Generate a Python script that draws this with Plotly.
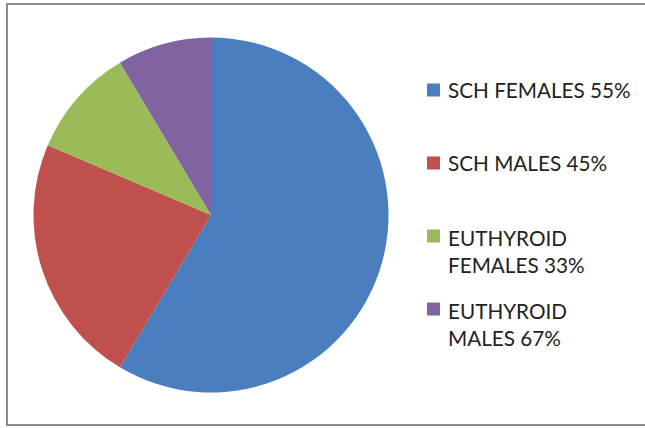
import plotly.graph_objects as go

categories = ["SCH FEMALES 55%", "SCH MALES 45%", "EUTHYROID<br>FEMALES 33%", "EUTHYROID<br>MALES 67%"]
values = [41, 16, 7, 6]
colors = ["#4A7EBF", "#C0504D", "#9BBB59", "#8064A2"]

W, H = 645, 428
cx, cy, r = 211, 215, 177.5

fig = go.Figure(go.Pie(
    labels=categories, values=values, sort=False, direction="clockwise", rotation=0,
    marker=dict(colors=colors, line=dict(width=0)),
    textinfo="none", hoverinfo="label+value", showlegend=False,
    domain=dict(x=[(cx - r) / W, (cx + r) / W], y=[(H - cy - r) / H, (H - cy + r) / H]),
))

# legend drawn as squares + text
legend_y = [90, 163, 251, 324]  # centers (px from top)
shapes = [dict(type="rect", xref="paper", yref="paper", x0=7 / W, x1=1.05, y0=1 - 425 / H, y1=1 - 4 / H,
               line=dict(color="#8C8C8C", width=2), fillcolor="rgba(0,0,0,0)")]
annotations = []
for lab, col, yc in zip(categories, colors, legend_y):
    multi = "<br>" in lab
    sq_y = yc - 15 if multi else yc
    shapes.append(dict(type="rect", xref="paper", yref="paper",
                       x0=427 / W, x1=440 / W, y0=1 - (sq_y + 6.5) / H, y1=1 - (sq_y - 6.5) / H,
                       line=dict(width=0), fillcolor=col))
    annotations.append(dict(text=lab, xref="paper", yref="paper", x=446 / W, y=1 - yc / H,
                            xanchor="left", yanchor="middle", showarrow=False, align="left",
                            font=dict(family="Lato", size=20.7, color="#222222")))

fig.update_layout(width=W, height=H, margin=dict(l=0, r=0, t=0, b=0),
                  paper_bgcolor="white", plot_bgcolor="white",
                  shapes=shapes, annotations=annotations)
fig.write_html("out.html", config={"displayModeBar": False},
               post_script="document.body.style.margin='0';document.body.style.overflow='hidden';")
